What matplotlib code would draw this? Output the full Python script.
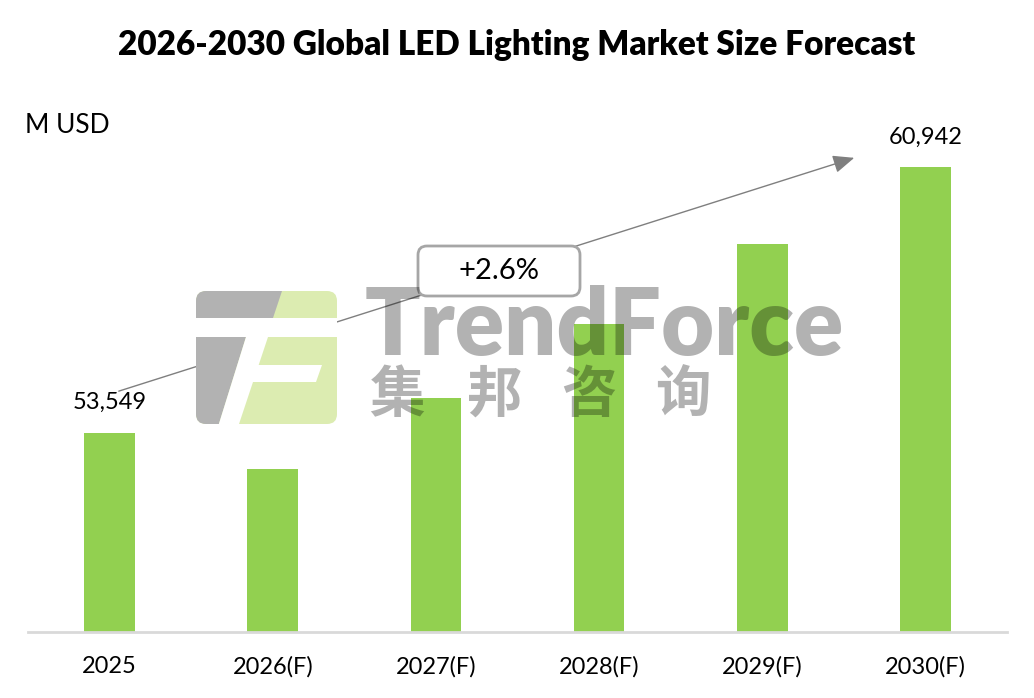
import matplotlib
matplotlib.use("Agg")
import matplotlib.pyplot as plt
from matplotlib.patches import Polygon, FancyBboxPatch
from matplotlib.transforms import IdentityTransform

# data
years = ["2025", "2026(F)", "2027(F)", "2028(F)", "2029(F)", "2030(F)"]
market_size = [53549, 52540, 54517, 56578, 58806, 60942]
labelled = [0, 5]  # only first and last bars carry a value label
cagr_text = "+2.6%"
unit_text = "M USD"
title_text = "2026-2030 Global LED Lighting Market Size Forecast"

BAR_COLOR = "#92d050"
W, H = 1034, 698
FONT = ["Lato", "DejaVu Sans"]

plt.rcParams["font.family"] = FONT

fig = plt.figure(figsize=(W / 100, H / 100), dpi=100)
ax = fig.add_axes([28 / W, 66 / H, 979 / W, 532 / H])


def fx(x):
    return x / W


def fy(y):
    return 1 - y / H


def px(pts):
    return [(fx(x), fy(y)) for x, y in pts]


xs = range(len(years))
ax.bar(xs, market_size, width=0.31, color=BAR_COLOR, zorder=2)
ax.set_xlim(-0.5, len(years) - 0.5)
ax.set_ylim(48000, 62816)
ax.set_xticks(list(xs))
ax.set_xticklabels(years, fontsize=17)
ax.tick_params(axis="x", length=0, pad=17)
ax.set_yticks([])
for side in ["left", "right", "top"]:
    ax.spines[side].set_visible(False)
ax.spines["bottom"].set_color("#d9d9d9")
ax.spines["bottom"].set_linewidth(2)

for i in labelled:
    ax.annotate(f"{market_size[i]:,}", (i, market_size[i]), xytext=(0, 17),
                textcoords="offset points", ha="center", va="baseline",
                fontsize=17)

# growth arrow from first bar label to last bar label
ax.annotate("", xy=(4.58, 61229), xytext=(0.04, 54684),
            arrowprops=dict(arrowstyle="-|>,head_length=1.3,head_width=0.55",
                            color="#7f7f7f", lw=1), zorder=4)

box = FancyBboxPatch((418, H - 296), 162, 50,
                     boxstyle="round,pad=0,rounding_size=9",
                     transform=IdentityTransform(), facecolor="white",
                     edgecolor="#a6a6a6", lw=2, zorder=5)
fig.patches.append(box)
fig.text(fx(499), fy(271), cagr_text, ha="center", va="center",
         fontsize=21, zorder=6)

# title and unit
fig.text(0.5, fy(45), title_text, ha="center", va="center",
         fontsize=24, fontweight="heavy")
fig.text(fx(25), fy(133), unit_text, ha="left", va="baseline", fontsize=19)

# watermark logo
base = FancyBboxPatch((196, H - 424), 141, 133,
                      boxstyle="round,pad=0,rounding_size=10",
                      transform=IdentityTransform(), facecolor="#dcecb1",
                      edgecolor="none", zorder=1)
fig.patches.append(base)
shapes = [
    ([(190, 285), (284, 285), (273, 318), (190, 318)], "#b2b2b2"),
    ([(190, 318), (345, 318), (345, 337), (190, 337)], "white"),
    ([(190, 337), (246, 337), (217, 430), (190, 430)], "#b2b2b2"),
    ([(246, 337), (268, 337), (237, 430), (217, 430)], "white"),
    ([(255, 365), (322, 365), (316, 382), (250, 382)], "white"),
]
for pts, col in shapes:
    poly = Polygon(px(pts), closed=True, transform=fig.transFigure,
                   facecolor=col, edgecolor="none", zorder=1)
    fig.patches.append(poly)
    poly.set_clip_path(base)

fig.text(fx(365), fy(355), "TrendForce", ha="left", va="baseline",
         fontsize=66, fontweight="heavy", color="black", alpha=0.3, zorder=7)
for cx, ch in zip([397, 495, 589, 683], "集邦咨询"):
    fig.text(fx(cx), fy(396), ch, ha="center", va="center", fontsize=40,
             fontweight="bold", family=["Noto Sans CJK SC"], color="black",
             alpha=0.3, zorder=7)

fig.savefig("out.png", dpi=100)
